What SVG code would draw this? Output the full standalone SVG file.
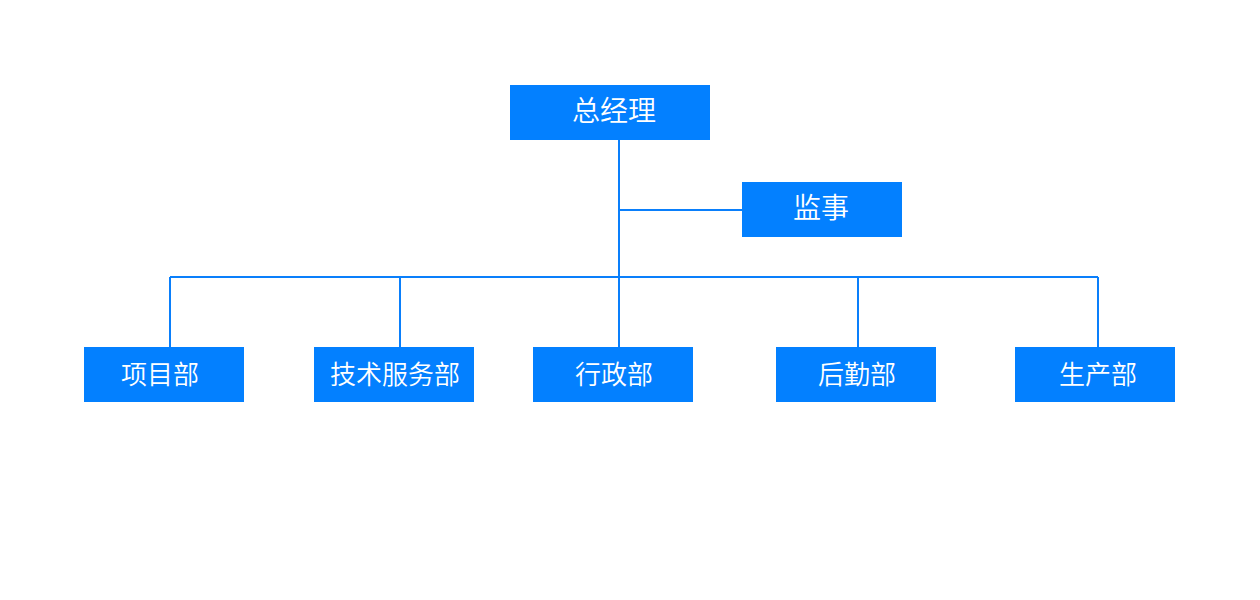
<svg xmlns="http://www.w3.org/2000/svg" width="1260" height="600" viewBox="0 0 1260 600">
<style>
.box{fill:#0380ff}
.lbl{fill:#fff;font-family:"Noto Sans CJK SC","Noto Sans",sans-serif;font-size:26px;font-weight:350;text-anchor:middle;dominant-baseline:central}
.big{font-size:28px}
.ln{stroke:#0a7ffb;stroke-width:2;fill:none}
</style>
<rect width="1260" height="600" fill="#fff"/>
<g id="connectors">
<path class="ln" d="M619 140V347M619 210H742M170 277H1098M170 277V347M400 277V347M858 277V347M1098 277V347"/>
</g>
<g id="n-gm"><rect class="box" x="510" y="85" width="200" height="55"/><text class="lbl big" x="614" y="109">总经理</text></g>
<g id="n-sup"><rect class="box" x="742" y="182" width="160" height="55"/><text class="lbl big" x="821" y="206">监事</text></g>
<g id="n-proj"><rect class="box" x="84" y="347" width="160" height="55"/><text class="lbl" x="160" y="372">项目部</text></g>
<g id="n-tech"><rect class="box" x="314" y="347" width="160" height="55"/><text class="lbl" x="395" y="372">技术服务部</text></g>
<g id="n-admin"><rect class="box" x="533" y="347" width="160" height="55"/><text class="lbl" x="614" y="372">行政部</text></g>
<g id="n-log"><rect class="box" x="776" y="347" width="160" height="55"/><text class="lbl" x="857" y="372">后勤部</text></g>
<g id="n-prod"><rect class="box" x="1015" y="347" width="160" height="55"/><text class="lbl" x="1098" y="372">生产部</text></g>
</svg>
